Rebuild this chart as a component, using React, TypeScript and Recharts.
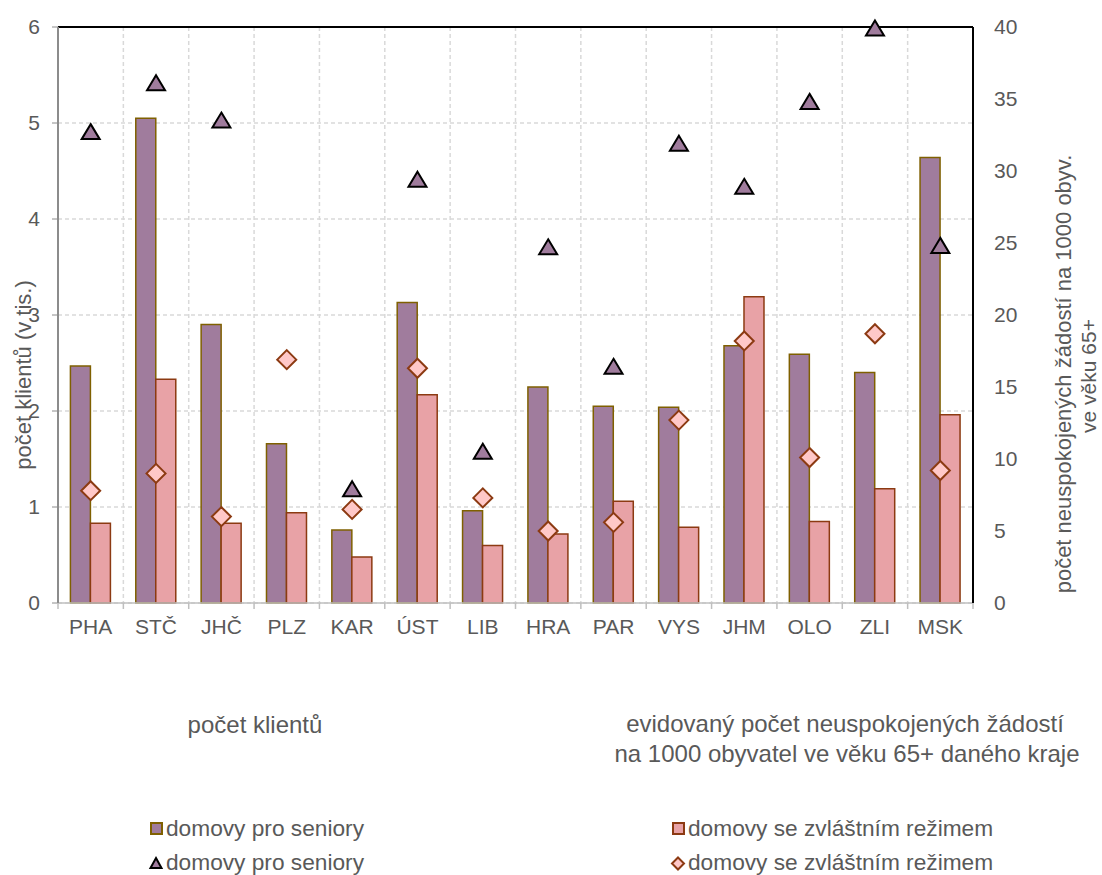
import {
  ComposedChart,
  Bar,
  Line,
  XAxis,
  YAxis,
  CartesianGrid,
  ReferenceLine,
} from "recharts";

const categories = ["PHA", "STČ", "JHČ", "PLZ", "KAR", "ÚST", "LIB", "HRA", "PAR", "VYS", "JHM", "OLO", "ZLI", "MSK"];
// počet klientů (v tis.)
const seniorHomeClients = [2.47, 5.05, 2.9, 1.66, 0.76, 3.13, 0.96, 2.25, 2.05, 2.04, 2.68, 2.59, 2.4, 4.64];
const specialHomeClients = [0.83, 2.33, 0.83, 0.94, 0.48, 2.17, 0.6, 0.72, 1.06, 0.79, 3.19, 0.85, 1.19, 1.96];
// neuspokojené žádosti na 1000 obyv. 65+
const seniorHomeRequests = [32.7, 36.1, 33.5, null, 7.9, 29.4, 10.5, 24.7, 16.4, 31.9, 28.9, 34.8, 39.9, 24.8];
const specialHomeRequests = [7.8, 9.0, 6.0, 16.9, 6.5, 16.3, 7.3, 5.0, 5.6, 12.7, 18.2, 10.1, 18.7, 9.2];

const leftTicks = [0, 1, 2, 3, 4, 5, 6];
const rightTicks = [0, 5, 10, 15, 20, 25, 30, 35, 40];

const data = categories.map((name, i) => ({
  name,
  seniorClients: seniorHomeClients[i],
  specialClients: specialHomeClients[i],
  seniorRequests: seniorHomeRequests[i],
  specialRequests: specialHomeRequests[i],
}));

const FONT = "'Liberation Sans', Arial, sans-serif";
const TEXT = "#595959";
const PURPLE = "#A07C9D";
const PURPLE_EDGE = "#7F6000";
const PINK = "#E8A2A6";
const PINK_EDGE = "#8C3A12";
const DIAMOND_FILL = "#FFC8C8";

const W = 1102;
const CHART_H = 650;
const PLOT_W = 915;
const BAND = PLOT_W / categories.length;

const CategoryTick = (props: any) => {
  const { x, y, payload, index } = props;
  const axisY = y - 16;
  return (
    <g>
      <line x1={x - BAND / 2} x2={x - BAND / 2} y1={axisY} y2={axisY + 6} stroke="#bfbfbf" strokeWidth={1.5} />
      {index === categories.length - 1 && (
        <line x1={x + BAND / 2} x2={x + BAND / 2} y1={axisY} y2={axisY + 6} stroke="#bfbfbf" strokeWidth={1.5} />
      )}
      <text x={x} y={y} dy="0.71em" textAnchor="middle" fill={TEXT} fontSize={21} fontFamily={FONT}>
        {payload.value}
      </text>
    </g>
  );
};

const Triangle = (props: any) => {
  const { cx, cy, value, index } = props;
  if (value == null || cy == null) return <g key={`t${index}`} />;
  return (
    <polygon
      key={`t${index}`}
      points={`${cx},${cy - 8} ${cx + 9},${cy + 7} ${cx - 9},${cy + 7}`}
      fill={PURPLE}
      stroke="#000"
      strokeWidth={2}
    />
  );
};

const Diamond = (props: any) => {
  const { cx, cy, value, index } = props;
  if (value == null || cy == null) return <g key={`d${index}`} />;
  const r = 9.5;
  return (
    <polygon
      key={`d${index}`}
      points={`${cx},${cy - r} ${cx + r},${cy} ${cx},${cy + r} ${cx - r},${cy}`}
      fill={DIAMOND_FILL}
      stroke={PINK_EDGE}
      strokeWidth={2}
    />
  );
};

const Overlay = () => (
  <svg
    width={W}
    height={875}
    style={{ position: "absolute", left: 0, top: 0, pointerEvents: "none" }}
    fontFamily={FONT}
    fill={TEXT}
  >
    {/* osa vlevo */}
    <text transform="translate(31,375) rotate(-90)" textAnchor="middle" fontSize={22}>
      počet klientů (v tis.)
    </text>
    {/* osa vpravo */}
    <text transform="translate(1071,374) rotate(-90)" textAnchor="middle" fontSize={22}>
      počet neuspokojených žádostí na 1000 obyv.
    </text>
    <text transform="translate(1096,376) rotate(-90)" textAnchor="middle" fontSize={21}>
      ve věku 65+
    </text>

    {/* popisky pod grafem */}
    <text x={255} y={733} textAnchor="middle" fontSize={24}>počet klientů</text>
    <text x={845} y={732} textAnchor="middle" fontSize={24}>evidovaný počet neuspokojených žádostí</text>
    <text x={847} y={762} textAnchor="middle" fontSize={24}>na 1000 obyvatel ve věku 65+ daného kraje</text>

    {/* legenda */}
    <rect x={151} y={823} width={11} height={11} fill={PURPLE} stroke={PURPLE_EDGE} strokeWidth={2} />
    <text x={166} y={836} fontSize={22.7}>domovy pro seniory</text>
    <polygon points="156,858 161.5,868 150.5,868" fill={PURPLE} stroke="#000" strokeWidth={2} />
    <text x={166} y={870} fontSize={22.7}>domovy pro seniory</text>

    <rect x={673} y={823} width={11} height={11} fill={PINK} stroke={PINK_EDGE} strokeWidth={2} />
    <text x={688} y={836} fontSize={22.7}>domovy se zvláštním režimem</text>
    <polygon points="678,857.5 684,863.5 678,869.5 672,863.5" fill={DIAMOND_FILL} stroke={PINK_EDGE} strokeWidth={2} />
    <text x={688} y={870} fontSize={22.7}>domovy se zvláštním režimem</text>
  </svg>
);

export default function App() {
  return (
    <div style={{ position: "absolute", left: 0, top: 0, width: W, height: 875, background: "#fff" }}>
      <ComposedChart
        width={W}
        height={CHART_H}
        data={data}
        margin={{ top: 27, right: 0, bottom: 0, left: 0 }}
        barCategoryGap="19%"
        barGap={0}
      >
        <CartesianGrid
          yAxisId="left"
          stroke="#d9d9d9"
          strokeWidth={1.5}
          strokeDasharray="4 3"
          verticalCoordinatesGenerator={({ offset }: any) =>
            Array.from({ length: categories.length + 1 }, (_, i) => offset.left + (i * offset.width) / categories.length)
          }
        />
        <XAxis
          dataKey="name"
          height={47}
          tickSize={6}
          tickMargin={10}
          tickLine={false}
          axisLine={{ stroke: "#bfbfbf", strokeWidth: 1.5 }}
          tick={<CategoryTick />}
          interval={0}
        />
        <YAxis
          yAxisId="left"
          width={58}
          domain={[0, 6]}
          ticks={leftTicks}
          tickSize={6}
          tickMargin={12}
          tickLine={{ stroke: "#8c8c8c" }}
          axisLine={{ stroke: "#8c8c8c", strokeWidth: 2 }}
          tick={{ fill: TEXT, fontSize: 21, fontFamily: FONT }}
        />
        <YAxis
          yAxisId="right"
          orientation="right"
          width={129}
          domain={[0, 40]}
          ticks={rightTicks}
          tickSize={0}
          tickMargin={21}
          tickLine={false}
          axisLine={{ stroke: "#000", strokeWidth: 2 }}
          tick={{ fill: TEXT, fontSize: 21, fontFamily: FONT, textAnchor: "start" }}
        />
        <ReferenceLine yAxisId="left" y={6} stroke="#000" strokeWidth={2} />
        <Bar
          yAxisId="left"
          dataKey="seniorClients"
          fill={PURPLE}
          stroke={PURPLE_EDGE}
          strokeWidth={1.5}
          isAnimationActive={false}
        />
        <Bar
          yAxisId="left"
          dataKey="specialClients"
          fill={PINK}
          stroke={PINK_EDGE}
          strokeWidth={1.5}
          isAnimationActive={false}
        />
        <Line
          yAxisId="right"
          dataKey="seniorRequests"
          stroke="none"
          dot={Triangle}
          activeDot={false}
          isAnimationActive={false}
        />
        <Line
          yAxisId="right"
          dataKey="specialRequests"
          stroke="none"
          dot={Diamond}
          activeDot={false}
          isAnimationActive={false}
        />
      </ComposedChart>
      <Overlay />
    </div>
  );
}
